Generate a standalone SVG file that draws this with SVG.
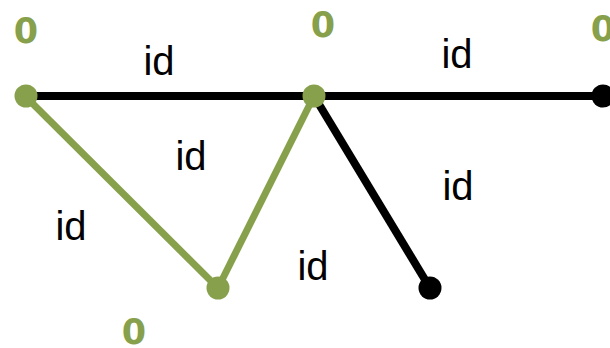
<svg xmlns="http://www.w3.org/2000/svg" width="610" height="348" viewBox="0 0 610 348">
<style>
.lbl{font-family:"Liberation Sans",Arial,sans-serif;font-size:40px;fill:#000;text-anchor:middle}
.zero{font-family:"DejaVu Sans",sans-serif;font-size:35px;font-weight:bold;fill:#87A04B;text-anchor:middle}
.blk{stroke:#000;stroke-width:8;fill:none}
.grn{stroke:#87A04B;stroke-width:7;fill:none}
.ng{fill:#87A04B}
.nb{fill:#000}
</style>
<rect width="610" height="348" fill="#fff"/>
<g id="connectors">
<line class="blk" x1="25" y1="96" x2="602" y2="96"/>
<line class="blk" x1="314" y1="96" x2="430" y2="288"/>
<line class="grn" x1="25" y1="96" x2="218" y2="288"/>
<line class="grn" x1="218" y1="288" x2="314" y2="96"/>
</g>
<g id="n1"><circle class="ng" cx="26" cy="96" r="11.5"/><text class="zero" x="26" y="43">0</text></g>
<g id="n2"><circle class="ng" cx="314" cy="96" r="11.5"/><text class="zero" x="323" y="37">0</text></g>
<g id="n3"><circle class="nb" cx="603" cy="96" r="11.5"/><text class="zero" x="603" y="41">0</text></g>
<g id="n4"><circle class="ng" cx="218" cy="288" r="11.5"/><text class="zero" x="134" y="344">0</text></g>
<g id="n5"><circle class="nb" cx="430" cy="288" r="11.5"/></g>
<g id="labels">
<text class="lbl" x="159" y="75">id</text>
<text class="lbl" x="457" y="68">id</text>
<text class="lbl" x="191" y="170">id</text>
<text class="lbl" x="458" y="200">id</text>
<text class="lbl" x="71" y="240">id</text>
<text class="lbl" x="313" y="280">id</text>
</g>
</svg>
